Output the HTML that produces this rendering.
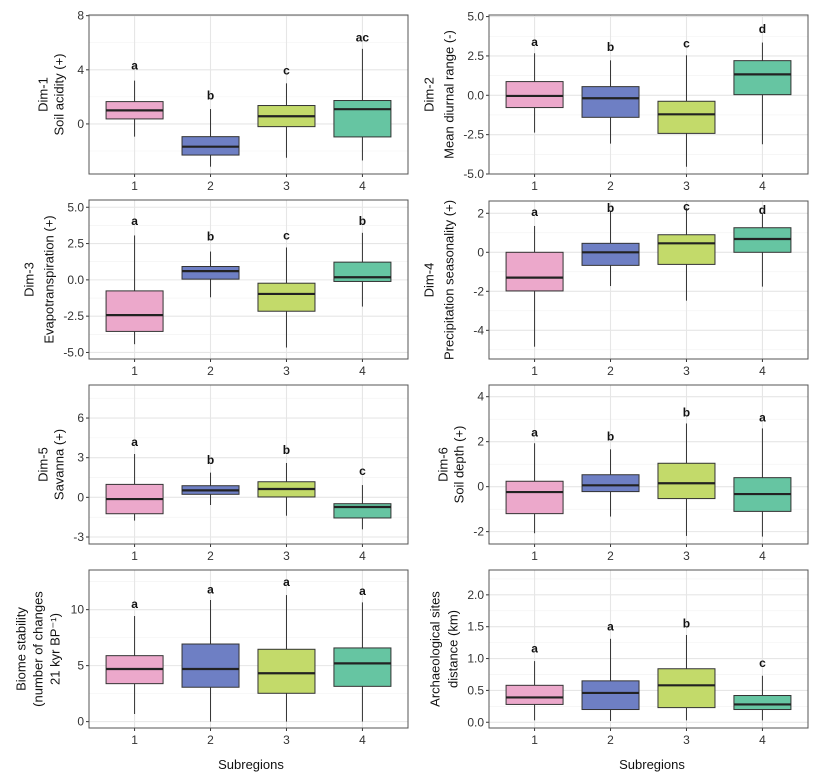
<!DOCTYPE html>
<html><head><meta charset="utf-8"><style>
body{margin:0;background:#fff}
svg{display:block;font-family:"Liberation Sans",sans-serif}
</style></head><body>
<svg id="c" width="826" height="778" viewBox="0 0 826 778" xmlns="http://www.w3.org/2000/svg"></svg>
<script>
const categories=["1","2","3","4"];
const colors=["#eca8cb","#6e7fc4","#c3da6a","#66c5a2"];
// Dim-1
const d1Lo=[-0.94,-3.16,-2.5,-2.7], d1Q1=[0.37,-2.3,-0.2,-0.96], d1Med=[1.0,-1.68,0.57,1.09], d1Q3=[1.65,-0.94,1.36,1.73], d1Hi=[3.2,1.1,3.0,5.55];
const d1Letters=["a","b","c","ac"], d1LetterY=[4.3,2.1,3.95,6.4], d1Ticks=[0,4,8];
// Dim-2
const d2Lo=[-2.37,-3.07,-4.54,-3.11], d2Q1=[-0.78,-1.4,-2.42,0.04], d2Med=[-0.04,-0.19,-1.21,1.33], d2Q3=[0.87,0.55,-0.38,2.2], d2Hi=[2.67,2.22,2.54,3.35];
const d2Letters=["a","b","c","d"], d2LetterY=[3.4,3.07,3.28,4.2], d2Ticks=[-5,-2.5,0,2.5,5];
// Dim-3
const d3Lo=[-4.43,-1.2,-4.66,-1.84], d3Q1=[-3.55,0.05,-2.16,-0.11], d3Med=[-2.43,0.6,-0.97,0.18], d3Q3=[-0.76,0.92,-0.23,1.22], d3Hi=[3.06,1.95,2.23,3.24];
const d3Letters=["a","b","c","b"], d3LetterY=[4.07,2.98,3.06,4.07], d3Ticks=[-5,-2.5,0,2.5,5];
// Dim-4
const d4Lo=[-4.84,-1.73,-2.48,-1.76], d4Q1=[-1.98,-0.67,-0.62,0.0], d4Med=[-1.3,0.0,0.46,0.68], d4Q3=[0.0,0.46,0.9,1.26], d4Hi=[1.35,2.13,2.26,1.96];
const d4Letters=["a","b","c","d"], d4LetterY=[2.07,2.26,2.34,2.17], d4Ticks=[-4,-2,0,2];
// Dim-5
const d5Lo=[-1.76,-0.58,-1.39,-2.42], d5Q1=[-1.24,0.23,0.03,-1.56], d5Med=[-0.13,0.53,0.63,-0.73], d5Q3=[0.98,0.88,1.18,-0.48], d5Hi=[3.28,1.87,2.6,0.93];
const d5Letters=["a","b","b","c"], d5LetterY=[4.2,2.83,3.58,1.99], d5Ticks=[-3,0,3,6];
// Dim-6
const d6Lo=[-2.07,-1.33,-2.19,-2.22], d6Q1=[-1.2,-0.22,-0.53,-1.1], d6Med=[-0.24,0.06,0.15,-0.33], d6Q3=[0.24,0.53,1.04,0.4], d6Hi=[1.93,1.66,2.81,2.59];
const d6Letters=["a","b","b","a"], d6LetterY=[2.41,2.22,3.3,3.08], d6Ticks=[-2,0,2,4];
// Biome stability
const bsLo=[0.68,0,0,0], bsQ1=[3.39,3.07,2.53,3.15], bsMed=[4.7,4.7,4.32,5.2], bsQ3=[5.89,6.93,6.46,6.58], bsHi=[9.43,10.86,11.3,10.65];
const bsLetters=["a","a","a","a"], bsLetterY=[10.5,11.8,12.47,11.67], bsTicks=[0,5,10];
// Archaeological distance
const arLo=[0.03,0.02,0.03,0.03], arQ1=[0.28,0.2,0.23,0.2], arMed=[0.39,0.46,0.58,0.28], arQ3=[0.58,0.65,0.84,0.42], arHi=[0.96,1.31,1.37,0.73];
const arLetters=["a","a","b","c"], arLetterY=[1.16,1.5,1.55,0.93], arTicks=[0,0.5,1,1.5,2];

const NS="http://www.w3.org/2000/svg";
const svg=document.getElementById("c");
function mk(tag,attrs,parent){const e=document.createElementNS(NS,tag);for(const k in attrs)e.setAttribute(k,attrs[k]);(parent||svg).appendChild(e);return e;}

const panels=[
 {id:"dim-1",x0:89,x1:408,y0:15,y1:174,lo:-3.7,hi:8.05,fmt:v=>String(v),title:["Dim-1","Soil acidity (+)"],tx:[44,60],d:[d1Lo,d1Q1,d1Med,d1Q3,d1Hi,d1Letters,d1LetterY,d1Ticks]},
 {id:"dim-2",x0:489,x1:808,y0:15,y1:174,lo:-5,hi:5.1,fmt:v=>v.toFixed(1),title:["Dim-2","Mean diurnal range (-)"],tx:[430,450],d:[d2Lo,d2Q1,d2Med,d2Q3,d2Hi,d2Letters,d2LetterY,d2Ticks]},
 {id:"dim-3",x0:89,x1:408,y0:200,y1:359,lo:-5.45,hi:5.5,fmt:v=>v.toFixed(1),title:["Dim-3","Evapotranspiration (+)"],tx:[30,50],d:[d3Lo,d3Q1,d3Med,d3Q3,d3Hi,d3Letters,d3LetterY,d3Ticks]},
 {id:"dim-4",x0:489,x1:808,y0:201,y1:359,lo:-5.47,hi:2.63,fmt:v=>String(v),title:["Dim-4","Precipitation seasonality (+)"],tx:[430,450],d:[d4Lo,d4Q1,d4Med,d4Q3,d4Hi,d4Letters,d4LetterY,d4Ticks]},
 {id:"dim-5",x0:89,x1:408,y0:385,y1:544,lo:-3.53,hi:8.5,fmt:v=>String(v),title:["Dim-5","Savanna (+)"],tx:[44,60],d:[d5Lo,d5Q1,d5Med,d5Q3,d5Hi,d5Letters,d5LetterY,d5Ticks]},
 {id:"dim-6",x0:489,x1:808,y0:385,y1:544,lo:-2.55,hi:4.52,fmt:v=>String(v),title:["Dim-6","Soil depth (+)"],tx:[444,460],d:[d6Lo,d6Q1,d6Med,d6Q3,d6Hi,d6Letters,d6LetterY,d6Ticks]},
 {id:"biome-stability",x0:89,x1:408,y0:570,y1:728,lo:-0.57,hi:13.54,fmt:v=>String(v),title:["Biome stability","(number of changes","21 kyr BP\u207B\u00B9)"],tx:[22,39,56],d:[bsLo,bsQ1,bsMed,bsQ3,bsHi,bsLetters,bsLetterY,bsTicks]},
 {id:"archaeological-distance",x0:489,x1:808,y0:570,y1:728,lo:-0.09,hi:2.39,fmt:v=>v.toFixed(1),title:["Archaeological sites","distance (km)"],tx:[436,454],d:[arLo,arQ1,arMed,arQ3,arHi,arLetters,arLetterY,arTicks]}
];

panels.forEach(p=>{
  const [lo,q1,med,q3,hi,letters,letterY,ticks]=p.d;
  const g=mk("g",{});
  
  
  const ys=v=>p.y1-(v-p.lo)/(p.hi-p.lo)*(p.y1-p.y0);
  const unit=(p.x1-p.x0)/4.2;
  const xs=i=>p.x0+(0.6+i)*unit;
  // gridlines
  const step=ticks[1]-ticks[0];
  for(let v=ticks[0]-step/2;v<=p.hi;v+=step/2){
    if(v<p.lo)continue;
    const major=ticks.some(t=>Math.abs(t-v)<1e-9);
    const l=mk("line",{x1:p.x0,x2:p.x1,y1:ys(v),y2:ys(v),stroke:major?"#e6e6e6":"#f1f1f1","stroke-width":major?1.1:0.6},g);
    
    
  }
  categories.forEach((c,i)=>{
    const l=mk("line",{x1:xs(i),x2:xs(i),y1:p.y0,y2:p.y1,stroke:"#e6e6e6","stroke-width":1.1},g);
    
    
  });
  // boxes
  const bw=57;
  categories.forEach((c,i)=>{
    const bg=mk("g",{},g);
    
    
    mk("line",{x1:xs(i),x2:xs(i),y1:ys(lo[i]),y2:ys(hi[i]),stroke:"#333","stroke-width":1},bg);
    mk("rect",{x:xs(i)-bw/2,y:ys(q3[i]),width:bw,height:ys(q1[i])-ys(q3[i]),fill:colors[i],stroke:"#333","stroke-width":1},bg);
    mk("line",{x1:xs(i)-bw/2,x2:xs(i)+bw/2,y1:ys(med[i]),y2:ys(med[i]),stroke:"#222","stroke-width":2.2},bg);
    const t=mk("text",{x:xs(i),y:ys(letterY[i])+4,"text-anchor":"middle","font-size":12,"font-weight":"bold",fill:"#111"},g);
    t.textContent=letters[i];
    
    
    const xl=mk("text",{x:xs(i),y:p.y1+16,"text-anchor":"middle","font-size":12,fill:"#333"},g);
    xl.textContent=c;
    
    
    mk("line",{x1:xs(i),x2:xs(i),y1:p.y1,y2:p.y1+3,stroke:"#333"},g);
  });
  ticks.forEach(v=>{
    const t=mk("text",{x:p.x0-5,y:ys(v)+4,"text-anchor":"end","font-size":12,fill:"#333"},g);
    t.textContent=p.fmt(v);
    
    
    mk("line",{x1:p.x0-3,x2:p.x0,y1:ys(v),y2:ys(v),stroke:"#333"},g);
  });
  const fr=mk("rect",{x:p.x0,y:p.y0,width:p.x1-p.x0,height:p.y1-p.y0,fill:"none",stroke:"#555","stroke-width":1},g);
  
  
  const cy=(p.y0+p.y1)/2;
  p.title.forEach((s,k)=>{
    const t=mk("text",{x:p.tx[k],y:cy,"text-anchor":"middle","font-size":13,fill:"#111",transform:`rotate(-90 ${p.tx[k]} ${cy})`,"dominant-baseline":"middle"},g);
    t.textContent=s;
    
    
  });
});
[[251,"x-axis-title-left"],[652,"x-axis-title-right"]].forEach(a=>{
  const t=mk("text",{x:a[0],y:769,"text-anchor":"middle","font-size":13,fill:"#111"});
  t.textContent="Subregions";
  
  
});
</script>
</body></html>
